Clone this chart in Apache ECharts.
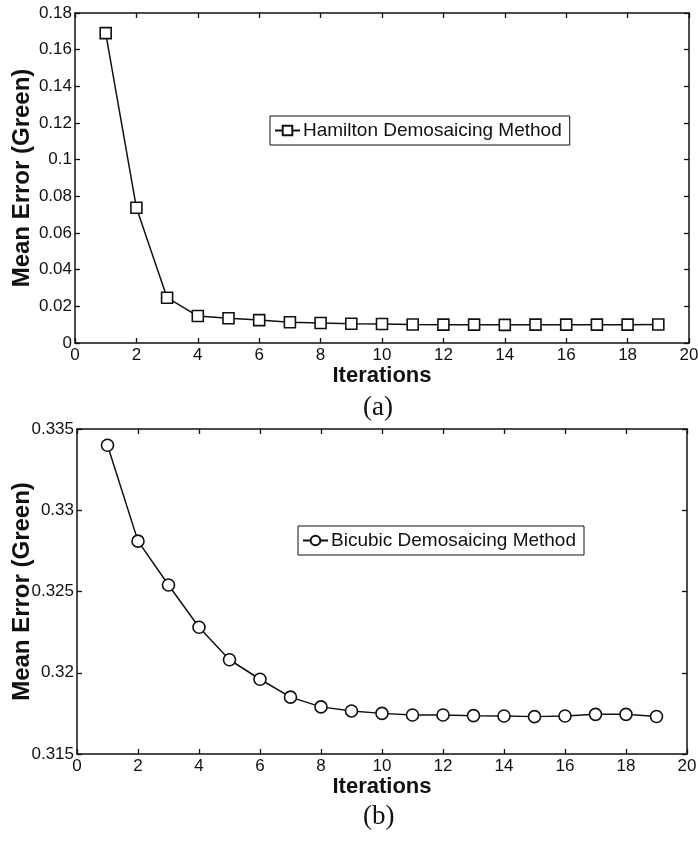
<!DOCTYPE html>
<html>
<head>
<meta charset="utf-8">
<script src="https://cdn.jsdelivr.net/npm/echarts@6/dist/echarts.min.js"></script>
<style>
  html, body { margin: 0; padding: 0; background: #ffffff; }
  #chart { width: 698px; height: 841px; }
</style>
</head>
<body>
<div id="chart"></div>
<script>
// Iteration numbers shared by both panels
const iterations = [1, 2, 3, 4, 5, 6, 7, 8, 9, 10, 11, 12, 13, 14, 15, 16, 17, 18, 19];

// Panel (a): mean green-channel error, Hamilton demosaicing
const hamiltonError = [0.1690, 0.0738, 0.0247, 0.0147, 0.0135, 0.0125, 0.0113, 0.0109, 0.0105,
                       0.0104, 0.0101, 0.0100, 0.0100, 0.0099, 0.0100, 0.0100, 0.0100, 0.0100, 0.0101];

// Panel (b): mean green-channel error, bicubic demosaicing
const bicubicError = [0.3340, 0.3281, 0.3254, 0.3228, 0.3208, 0.3196, 0.3185, 0.3179, 0.31765,
                      0.3175, 0.3174, 0.3174, 0.31736, 0.31734, 0.3173, 0.31734, 0.31744, 0.31744, 0.31731];

const seriesNames = ['Hamilton Demosaicing Method', 'Bicubic Demosaicing Method'];
const panelLabels = ['(a)', '(b)'];
const xTitle = 'Iterations';
const yTitle = 'Mean Error (Green)';

const SANS = '"Liberation Sans", Arial, Helvetica, sans-serif';
const SERIF = '"Liberation Serif", "Times New Roman", serif';
const INK = '#111111';

// fixed plot boxes; labels are allowed to sit outside them
const grids = [
  { left: 75, top: 13, width: 614, height: 330, containLabel: false, outerBoundsMode: 'none' },
  { left: 77, top: 429, width: 610, height: 325, containLabel: false, outerBoundsMode: 'none' }
];

function fmt(v) { return String(parseFloat(v.toFixed(4))); }

function xAxisPair(gi) {
  const base = {
    gridIndex: gi, type: 'value', min: 0, max: 20, interval: 2,
    axisLine: { show: true, onZero: false, lineStyle: { color: INK, width: 1.5 } },
    axisTick: { show: true, inside: true, length: 5, lineStyle: { color: INK, width: 1.3 } },
    splitLine: { show: false }
  };
  return [
    Object.assign({}, base, {
      position: 'bottom',
      axisLabel: { color: INK, fontFamily: SANS, fontSize: 17, margin: 4 },
      name: xTitle, nameLocation: 'middle', nameGap: 22, nameMoveOverlap: false,
      nameTextStyle: { color: INK, fontFamily: SANS, fontSize: 22, fontWeight: 'bold', verticalAlign: 'top' }
    }),
    Object.assign({}, base, { position: 'top', axisLabel: { show: false } })
  ];
}

function yAxisPair(gi, min, max, interval, gap) {
  const base = {
    gridIndex: gi, type: 'value', min: min, max: max, interval: interval,
    axisLine: { show: true, onZero: false, lineStyle: { color: INK, width: 1.5 } },
    axisTick: { show: true, inside: true, length: 5, lineStyle: { color: INK, width: 1.3 } },
    splitLine: { show: false }
  };
  return [
    Object.assign({}, base, {
      position: 'left',
      axisLabel: { color: INK, fontFamily: SANS, fontSize: 17, margin: 3, formatter: fmt },
      name: yTitle, nameLocation: 'middle', nameGap: gap, nameRotate: 90, nameMoveOverlap: false,
      nameTextStyle: { color: INK, fontFamily: SANS, fontSize: 24, fontWeight: 'bold' }
    }),
    Object.assign({}, base, { position: 'right', axisLabel: { show: false } })
  ];
}

function pairs(values) { return iterations.map((x, i) => [x, values[i]]); }

function lineSeries(name, values, gi, symbol, size) {
  return {
    name: name, type: 'line',
    xAxisIndex: gi * 2, yAxisIndex: gi * 2,
    data: pairs(values),
    symbol: symbol, symbolSize: size, showSymbol: true,
    lineStyle: { color: INK, width: 1.5 },
    itemStyle: { color: '#ffffff', borderColor: INK, borderWidth: 1.6 },
    emphasis: { disabled: true },
    z: 3
  };
}

function legendBox(name, left, top) {
  return {
    data: [name], left: left, top: top, orient: 'horizontal',
    itemWidth: 25, itemHeight: 12, itemGap: 0,
    padding: [5, 8, 5, 4],
    borderColor: INK, borderWidth: 1, backgroundColor: '#ffffff',
    selectedMode: false,
    textStyle: { color: INK, fontFamily: SANS, fontSize: 19, padding: [0, 0, 0, -2] }
  };
}

const chart = echarts.init(document.getElementById('chart'), null, { renderer: 'canvas' });

chart.setOption({
  animation: false,
  backgroundColor: '#ffffff',
  grid: grids,
  xAxis: xAxisPair(0).concat(xAxisPair(1)),
  yAxis: yAxisPair(0, 0, 0.18, 0.02, 41).concat(yAxisPair(1, 0.315, 0.335, 0.005, 43)),
  legend: [
    legendBox(seriesNames[0], 270, 116),
    legendBox(seriesNames[1], 298, 526)
  ],
  series: [
    lineSeries(seriesNames[0], hamiltonError, 0, 'rect', 11),
    lineSeries(seriesNames[1], bicubicError, 1, 'circle', 12)
  ],
  graphic: [
    { type: 'text', left: 380 - 17, top: 394,
      style: { text: panelLabels[0], fontFamily: SERIF, fontSize: 27, fill: INK } },
    { type: 'text', left: 380 - 17, top: 803,
      style: { text: panelLabels[1], fontFamily: SERIF, fontSize: 27, fill: INK } }
  ]
});
</script>
</body>
</html>
